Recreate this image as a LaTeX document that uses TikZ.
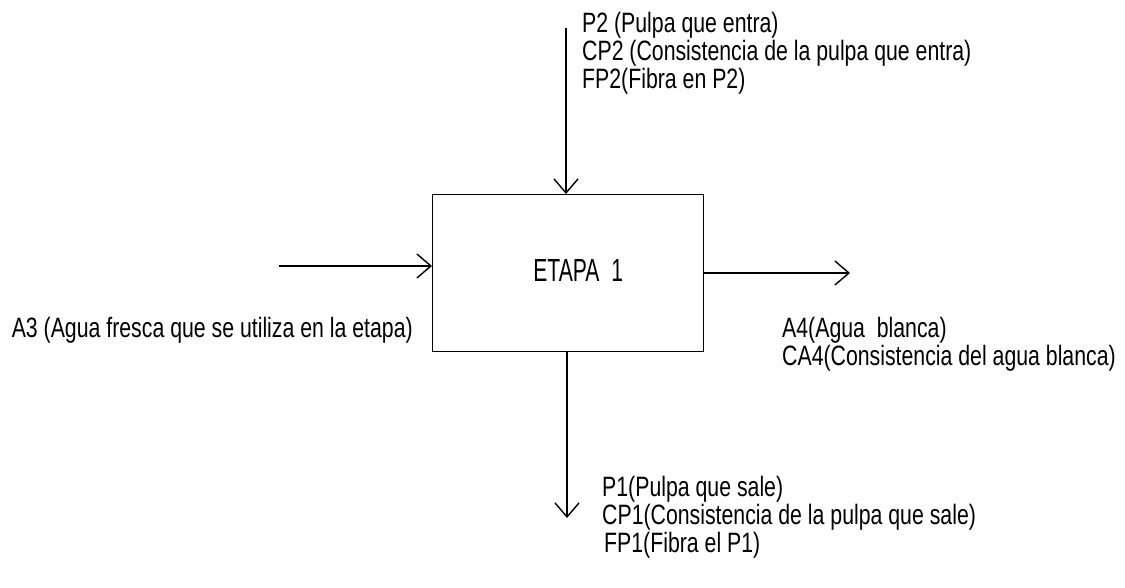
\documentclass[tikz,border=0pt]{standalone}
\usepackage{fontspec}
\setmainfont{Liberation Sans}[FakeStretch=0.76]
\newfontfamily\etapafont{Liberation Sans}[FakeStretch=0.66]
\usetikzlibrary{arrows.meta,positioning}

\tikzset{
  flecha/.style={line width=1.4pt,-{Straight Barb[length=14pt,width=24pt,line width=1.4pt]}},
  etiqueta/.style={align=left,inner sep=0pt,font=\fontsize{28}{28}\selectfont},
  etapabox/.style={draw,line width=1.4pt,minimum width=271pt,minimum height=157pt,
    font=\etapafont\fontsize{32}{32}\selectfont},
}

\begin{document}
\begin{tikzpicture}[x=1pt,y=-1pt]
  \useasboundingbox (0,0) rectangle (1125,588);
  % etapa
  \node[etapabox,anchor=north west] (etapa) at (432,194) {\hspace*{20pt}\raisebox{6pt}{ETAPA~~1}};
  % flujos
  \coordinate (p2) at (566,28);
  \coordinate (a3) at (279,266);
  \coordinate (a4) at (850,273);
  \coordinate (p1) at (567,518);
  \draw[flecha] (p2) -- (p2 |- etapa.north);
  \draw[flecha] (a3) -- (a3 -| etapa.west);
  \draw[flecha] (a4 -| etapa.east) -- (a4);
  \draw[flecha] (p1 |- etapa.south) -- (p1);
  % textos
  \node[etiqueta,anchor=north west] (tp2) at (582,12)
    {P2 (Pulpa que entra)\\CP2 (Consistencia de la pulpa que entra)\\FP2(Fibra en P2)};
  \node[etiqueta,anchor=north east] (ta3) at (413,317)
    {A3 (Agua fresca que se utiliza en la etapa)};
  \node[etiqueta,anchor=north west] (ta4) at (782,317)
    {A4(Agua~~blanca)\\CA4(Consistencia del agua blanca)};
  \node[etiqueta,anchor=north west] (tp1) at (602,476)
    {P1(Pulpa que sale)\\CP1(Consistencia de la pulpa que sale)\\\hspace*{2pt}FP1(Fibra el P1)};
\end{tikzpicture}
\end{document}
